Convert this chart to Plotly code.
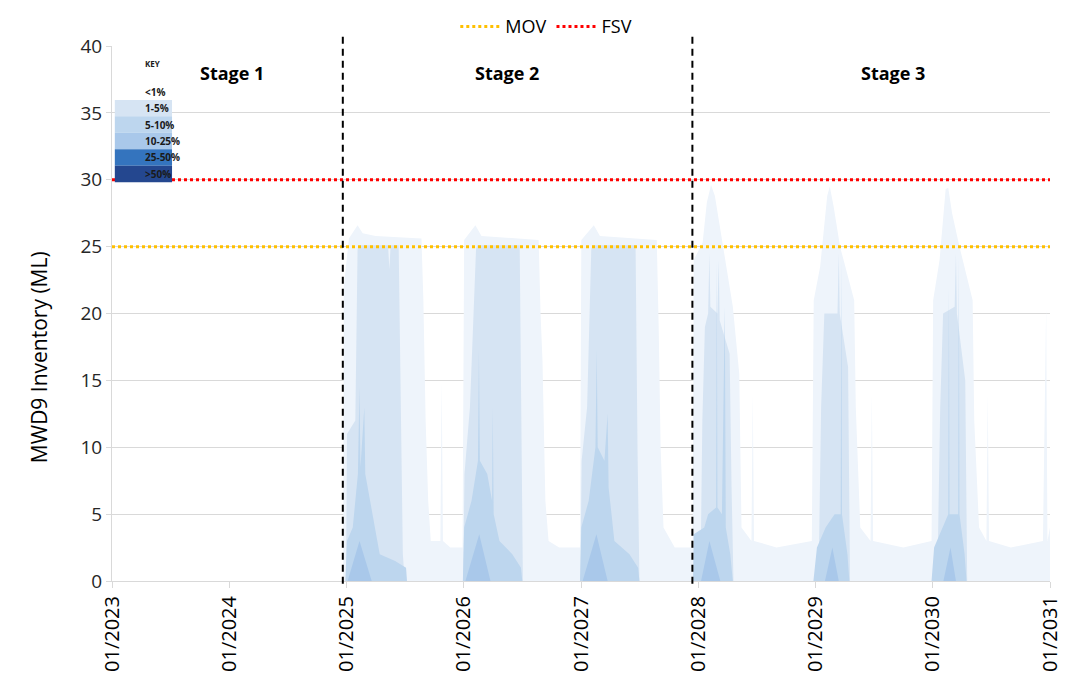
import plotly.graph_objects as go

# ---------------- data ----------------
band_names = ["<1%", "1-5%", "5-10%", "10-25%", "25-50%", ">50%"]
band_colors = ["#EEF4FB", "#D6E4F3", "#BDD6EE", "#A9C8EA", "#3474BE", "#24478F"]

lt1_dates = ["2024-12-21", "2024-12-23", "2025-01-08", "2025-02-04", "2025-02-20", "2025-04-01",
             "2025-08-22", "2025-08-28", "2025-09-04", "2025-09-12", "2025-09-20", "2025-10-20",
             "2025-10-24", "2025-10-28", "2025-11-20",
             "2025-12-28", "2026-01-02", "2026-02-06", "2026-02-25", "2026-08-22", "2026-08-28",
             "2026-09-03", "2026-09-12", "2026-09-22", "2026-10-25", "2026-12-29", "2027-01-02",
             "2027-02-10", "2027-03-01", "2027-08-25", "2027-08-31", "2027-09-06", "2027-09-15",
             "2027-10-20", "2027-11-30",
             "2027-12-15", "2027-12-18", "2028-01-15", "2028-01-28", "2028-02-10", "2028-02-22",
             "2028-03-18", "2028-04-18", "2028-05-08", "2028-05-15", "2028-06-15", "2028-06-19",
             "2028-06-23", "2028-09-01", "2028-12-20", "2028-12-26", "2029-01-15", "2029-01-25",
             "2029-02-06", "2029-02-14", "2029-02-26", "2029-03-18", "2029-05-01", "2029-05-06",
             "2029-05-20", "2029-06-21", "2029-06-25", "2029-06-29", "2029-10-01", "2029-12-28",
             "2030-01-02", "2030-01-22", "2030-02-02", "2030-02-10", "2030-02-18", "2030-03-02",
             "2030-03-25", "2030-05-05", "2030-05-10", "2030-05-25", "2030-06-17", "2030-06-21",
             "2030-06-25", "2030-09-01", "2030-12-10", "2030-12-20", "2030-12-24", "2031-01-01"]
lt1_vals = [0, 22, 25.6, 26.6, 26.0, 25.8,
            25.6, 21, 12, 6, 3, 3,
            15, 3, 2.5,
            2.5, 25.5, 26.6, 25.8, 25.5, 20,
            16.5, 6, 3, 2.5, 2.5, 25.5,
            26.6, 25.8, 25.5, 19, 10, 4,
            2.5, 2.5,
            2.5, 24, 25.3, 28.3, 29.6, 28.8,
            25.2, 20.5, 15.5, 4, 3, 14,
            3, 2.5, 3, 21, 23.5, 26,
            28.8, 29.5, 28, 25, 21, 13,
            4, 3, 14, 3, 2.5, 3,
            21, 24, 27, 29.3, 29.4, 27.5,
            25, 21, 12, 4, 3, 14,
            3, 2.5, 3, 20.5, 3, 4]

b1_5_dates = ["2024-12-30", "2025-01-02", "2025-01-28", "2025-02-04", "2025-02-10", "2025-05-10",
              "2025-05-14", "2025-05-18", "2025-06-12", "2025-06-20", "2025-06-25", "2025-07-01",
              "2025-12-30", "2026-01-03", "2026-01-20", "2026-02-08", "2026-02-12", "2026-06-24",
              "2026-06-30", "2026-07-04",
              "2026-12-30", "2027-01-03", "2027-01-20", "2027-02-02", "2027-02-06", "2027-06-20",
              "2027-06-26", "2027-07-02",
              "2028-01-08", "2028-01-14", "2028-01-22", "2028-02-01", "2028-02-05", "2028-02-08",
              "2028-03-01", "2028-03-05", "2028-03-08", "2028-04-08", "2028-04-14", "2028-04-20",
              "2029-01-10", "2029-01-18", "2029-01-28", "2029-03-10", "2029-03-14", "2029-03-17",
              "2029-04-12", "2029-04-18",
              "2030-01-15", "2030-01-24", "2030-02-02", "2030-03-10", "2030-03-14", "2030-03-17",
              "2030-04-12", "2030-04-18"]
b1_5_vals = [0, 11, 12, 24.8, 25.1, 25.1,
             23.3, 25.1, 25.1, 12, 2, 0,
             0, 8, 13, 24.8, 25.1, 25.1,
             10, 0,
             0, 9, 13, 24.8, 25.1, 25.1,
             10, 0,
             0, 12, 19, 20, 24.5, 20.5,
             20, 24, 19.5, 17, 7, 0,
             0, 13, 20, 20, 24.5, 20,
             16, 0,
             0, 13, 20, 20.5, 24.5, 20,
             15, 0]

b5_10_dates = ["2024-12-28", "2025-01-02", "2025-01-20", "2025-02-05", "2025-02-10", "2025-02-13",
               "2025-02-25", "2025-02-28", "2025-03-15", "2025-04-14", "2025-06-01", "2025-07-05",
               "2025-07-08",
               "2025-12-29", "2026-01-02", "2026-01-25", "2026-02-14", "2026-02-17", "2026-02-20",
               "2026-03-15", "2026-03-30", "2026-04-01", "2026-04-04", "2026-04-22", "2026-06-01",
               "2026-06-28", "2026-07-02",
               "2026-12-29", "2027-01-02", "2027-01-25", "2027-02-15", "2027-02-19", "2027-02-22",
               "2027-03-15", "2027-03-25", "2027-03-28", "2027-04-15", "2027-06-01", "2027-06-28",
               "2027-07-02",
               "2027-12-16", "2027-12-18", "2028-01-20", "2028-02-01", "2028-02-26", "2028-02-28",
               "2028-03-01", "2028-03-15", "2028-03-24", "2028-03-27", "2028-04-10", "2028-04-18",
               "2028-12-25", "2029-01-05", "2029-02-01", "2029-03-01", "2029-03-20", "2029-03-22",
               "2029-03-24", "2029-04-10", "2029-04-16",
               "2029-12-28", "2030-01-05", "2030-02-01", "2030-02-18", "2030-02-20", "2030-02-22",
               "2030-03-21", "2030-03-23", "2030-03-25", "2030-04-10", "2030-04-16"]
b5_10_vals = [0, 3, 4, 8, 14.5, 8.5,
              13, 8, 6, 2, 1.5, 1,
              0,
              0, 4, 6, 9, 17.3, 9,
              8, 6, 13, 5, 3, 2,
              1, 0,
              0, 4, 6, 10, 17.3, 10,
              9, 12.5, 7, 3, 2, 1,
              0,
              0, 3.5, 4, 5, 5.5, 24,
              5.5, 5, 20.5, 4, 2, 0,
              0, 2.5, 4, 5, 5, 24,
              5, 2, 0,
              0, 2.5, 4, 5, 22, 5,
              5, 24.3, 5, 2, 0]

b10_25_dates = ["2025-01-04", "2025-02-10", "2025-03-20",
                "2026-01-06", "2026-02-18", "2026-03-25",
                "2027-01-06", "2027-02-18", "2027-03-25",
                "2028-01-10", "2028-02-05", "2028-03-10",
                "2029-01-30", "2029-02-22", "2029-03-14",
                "2030-02-03", "2030-02-25", "2030-03-14"]
b10_25_vals = [0, 3, 0,
               0, 3.5, 0,
               0, 3.5, 0,
               0, 3, 0,
               0, 2.5, 0,
               0, 2.5, 0]

mov_level = 25
fsv_level = 30
stage_breaks = ["2024-12-20", "2027-12-14"]
stage_labels = ["Stage 1", "Stage 2", "Stage 3"]
stage_label_dates = ["2024-01-09", "2026-05-15", "2029-08-29"]
x_tick_vals = ["2023-01-01", "2024-01-01", "2025-01-01", "2026-01-01", "2027-01-01",
               "2028-01-01", "2029-01-01", "2030-01-01", "2031-01-01"]
x_tick_labels = ["01/2023", "01/2024", "01/2025", "01/2026", "01/2027",
                 "01/2028", "01/2029", "01/2030", "01/2031"]
y_title = "MWD9 Inventory (ML)"

FONT = "Open Sans"

fig = go.Figure()

band_series = [(lt1_dates, lt1_vals), (b1_5_dates, b1_5_vals),
               (b5_10_dates, b5_10_vals), (b10_25_dates, b10_25_vals)]
for (dts, vals), name, col in zip(band_series, band_names, band_colors):
    fig.add_trace(go.Scatter(x=dts, y=vals, mode="lines", fill="tozeroy",
                             line=dict(width=0, color=col), fillcolor=col,
                             name=name, showlegend=False, hoverinfo="skip"))

fig.add_trace(go.Scatter(x=[x_tick_vals[0], x_tick_vals[-1]], y=[mov_level, mov_level],
                         mode="lines", name="MOV",
                         line=dict(color="#FFC000", width=3, dash="dot")))
fig.add_trace(go.Scatter(x=[x_tick_vals[0], x_tick_vals[-1]], y=[fsv_level, fsv_level],
                         mode="lines", name="FSV",
                         line=dict(color="#FF0000", width=3, dash="dot")))

# stage separators
for d in stage_breaks:
    fig.add_shape(type="line", xref="x", yref="paper", x0=d, x1=d, y0=-0.005, y1=1.026,
                  line=dict(color="black", width=2, dash="7px,5px"), layer="above")

for lab, d in zip(stage_labels, stage_label_dates):
    fig.add_annotation(x=d, y=38.0, xref="x", yref="y", text=f"<b>{lab}</b>",
                       showarrow=False, font=dict(family=FONT, size=18, color="black"))

# key
key_top = 37.2
row_h = 1.23
kx0, kx1 = 0.003, 0.064
for i, (name, col) in enumerate(zip(band_names, band_colors)):
    y1 = key_top - i * row_h
    y0 = y1 - row_h
    if i > 0:
        fig.add_shape(type="rect", xref="x domain", yref="y", x0=kx0, x1=kx1, y0=y0, y1=y1,
                      line=dict(width=0), fillcolor=col, layer="above")
    fig.add_annotation(xref="x domain", yref="y", x=(kx0 + kx1) / 2, y=(y0 + y1) / 2,
                       text=f"<b>{name}</b>", showarrow=False,
                       font=dict(family=FONT, size=10, color="#1a1a1a"))
fig.add_annotation(xref="x domain", yref="y", x=(kx0 + kx1) / 2, y=38.7, text="<b>KEY</b>",
                   showarrow=False, font=dict(family=FONT, size=8, color="#1a1a1a"))

# y axis title (placed like the original, slightly below centre)
fig.add_annotation(xref="paper", yref="paper", x=-0.077, y=0.418, text=y_title,
                   textangle=-90, showarrow=False, xanchor="center", yanchor="middle",
                   font=dict(family=FONT, size=21, color="black"))

# left frame edge
fig.add_shape(type="line", xref="paper", yref="paper", x0=-0.112, x1=-0.112, y0=-0.25, y1=1.2,
              line=dict(color="#D9D9D9", width=1), layer="below")

# page body has an 8px default margin: figure is sized/offset to compensate
fig.update_layout(
    width=1062, height=688,
    margin=dict(l=104, r=20, t=38, b=115, autoexpand=False),
    paper_bgcolor="white", plot_bgcolor="white",
    font=dict(family=FONT, color="#262626"),
    legend=dict(orientation="h", x=0.463, xanchor="center", y=1.036, yanchor="middle",
                font=dict(family=FONT, size=18, color="black"), itemwidth=40,
                bgcolor="rgba(0,0,0,0)"),
    xaxis=dict(type="date", range=[x_tick_vals[0], x_tick_vals[-1]],
               tickmode="array", tickvals=x_tick_vals, ticktext=x_tick_labels,
               tickangle=-90, tickfont=dict(family=FONT, size=20, color="black"),
               showgrid=False, showline=True, linecolor="#D9D9D9", linewidth=1,
               ticks="outside", ticklen=6, tickcolor="#D9D9D9", zeroline=False),
    yaxis=dict(range=[0, 40], tick0=0, dtick=5,
               tickfont=dict(family=FONT, size=19, color="#262626"),
               showgrid=True, gridcolor="#D9D9D9", gridwidth=1,
               showline=True, linecolor="#D9D9D9", ticks="outside", ticklen=5,
               tickcolor="#D9D9D9", zeroline=False),
)

fig.write_html("out.html")
